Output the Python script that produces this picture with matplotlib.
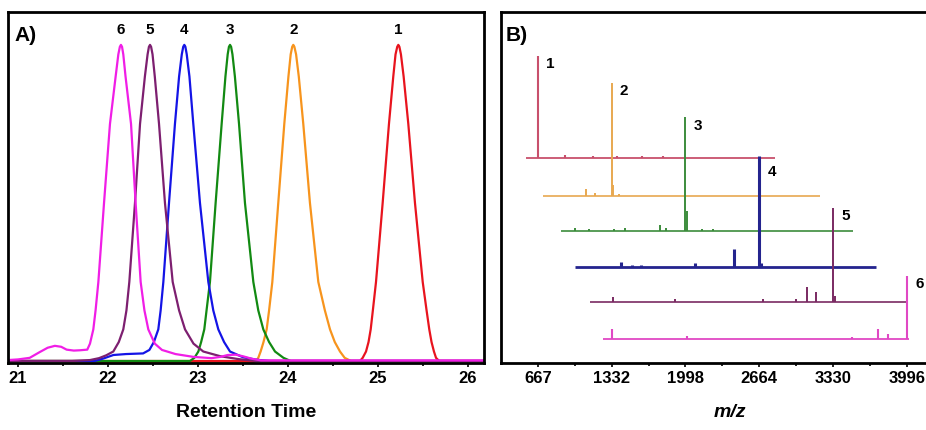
import numpy as np
import matplotlib
matplotlib.use('Agg')
import matplotlib.pyplot as plt

plt.rcParams['font.family'] = ['Liberation Sans', 'DejaVu Sans']
plt.rcParams['font.weight'] = 'bold'

# ---- Panel A: chromatogram traces (retention time in min, signal in % of max) ----
peak_ids = ['1', '2', '3', '4', '5', '6']
trace_colors = ['#e8141e', '#f7941d', '#128a12', '#1414e6', '#7d1f70', '#f01ee6']

rt_1 = [20.89, 24.80, 24.83, 24.867, 24.895, 24.919, 24.943, 24.978, 25.052, 25.122, 25.17,
        25.195, 25.214, 25.226, 25.238, 25.255, 25.285, 25.337, 25.411, 25.497, 25.54, 25.57,
        25.595, 25.622, 25.645, 25.68, 26.18]
sig_1 = [0, 0, 1, 3, 6, 10, 16, 25, 50, 75, 90, 97, 99.4, 100, 99.4, 97, 90, 75, 50, 25, 16,
         10, 6, 3, 1, 0, 0]

rt_2 = [20.89, 21.90, 21.93, 23.60, 23.644, 23.67, 23.696, 23.728, 23.763, 23.79, 23.826,
        23.892, 23.959, 24.005, 24.03, 24.047, 24.059, 24.071, 24.09, 24.12, 24.17, 24.244,
        24.337, 24.41, 24.467, 24.52, 24.578, 24.63, 24.70, 26.18]
sig_2 = [0, 0, -0.4, -0.4, 0, 1, 3, 6, 10, 16, 25, 50, 75, 90, 97, 99.4, 100, 99.4, 97, 90,
         75, 50, 25, 16, 10, 6, 3, 1, 0, 0]

rt_3 = [20.89, 22.91, 22.96, 23.004, 23.035, 23.07, 23.095, 23.133, 23.196, 23.263, 23.305,
        23.33, 23.344, 23.356, 23.368, 23.383, 23.41, 23.456, 23.522, 23.615, 23.67, 23.726,
        23.79, 23.856, 23.95, 24.03, 26.18]
sig_3 = [0, 0, 1, 3, 6, 10, 16, 25, 50, 75, 90, 97, 99.4, 100, 99.4, 97, 90, 75, 50, 25, 16,
         10, 6, 3, 1, 0, 0]

rt_4 = [20.89, 21.85, 21.95, 22.06, 22.20, 22.39, 22.46, 22.51, 22.559, 22.585, 22.615, 22.678,
        22.744, 22.79, 22.82, 22.836, 22.848, 22.86, 22.875, 22.905, 22.948, 23.022, 23.115,
        23.17, 23.226, 23.29, 23.356, 23.50, 23.65, 23.80, 26.18]
sig_4 = [0, 0, 0.8, 1.9, 2.2, 2.4, 3.5, 6, 10, 16, 25, 50, 75, 90, 97, 99.4, 100, 99.4, 97, 90,
         75, 50, 25, 16, 10, 6, 3, 1.2, 0.4, 0, 0]

rt_5 = [20.89, 21.60, 21.80, 21.90, 21.98, 22.059, 22.12, 22.17, 22.205, 22.237, 22.30, 22.356,
        22.41, 22.44, 22.455, 22.467, 22.479, 22.495, 22.52, 22.567, 22.633, 22.719, 22.79,
        22.856, 22.95, 23.059, 23.25, 23.45, 23.65, 26.18]
sig_5 = [0, 0, 0.3, 0.9, 1.8, 3, 6, 10, 16, 25, 50, 75, 90, 97, 99.4, 100, 99.4, 97, 90, 75,
         50, 25, 16, 10, 5.5, 3, 1.5, 0.6, 0, 0]

rt_6 = [20.89, 21.00, 21.13, 21.24, 21.33, 21.41, 21.48, 21.54, 21.62, 21.69, 21.77, 21.80,
        21.837, 21.862, 21.893, 21.956, 22.022, 22.085, 22.115, 22.132, 22.144, 22.156, 22.17,
        22.195, 22.256, 22.307, 22.363, 22.405, 22.448, 22.52, 22.60, 22.75, 22.95, 23.15,
        23.25, 23.33, 23.42, 23.50, 23.60, 23.70, 26.18]
sig_6 = [0.3, 0.5, 1.0, 2.8, 4.2, 4.8, 4.5, 3.6, 3.3, 3.4, 3.6, 5.5, 10, 16, 25, 50, 75, 90, 97,
         99.4, 100, 99.4, 97, 90, 75, 50, 25, 16, 10, 5.5, 3.5, 2.2, 1.3, 0.9, 1.3, 1.9, 2.0,
         1.5, 0.7, 0.2, 0.2]

rt_traces = [rt_1, rt_2, rt_3, rt_4, rt_5, rt_6]
sig_traces = [sig_1, sig_2, sig_3, sig_4, sig_5, sig_6]
rt_ticks = [21, 22, 23, 24, 25, 26]

# ---- Panel B: stacked mass spectra (m/z, intensity in arbitrary units) ----
spec_colors = ['#c8506c', '#e8a850', '#3c8c3c', '#24248e', '#7a2a62', '#e048c4']
spec_offset = [205, 167, 132, 96, 61, 24]
spec_start = [559, 712, 875, 1001, 1136, 1254]
spec_end = [2806, 3212, 3510, 3717, 4006, 4015]
spec_lw = [1.3, 1.2, 1.2, 2.0, 1.2, 1.3]

mz_1 = [667, 911, 1163, 1380, 1606, 1795]
int_1 = [102, 3, 2, 2, 2, 2]
mz_2 = [1332, 1345, 1100, 1181, 1400]
int_2 = [113, 11, 7, 3, 2]
mz_3 = [1998, 2008, 1768, 1822, 1000, 1130, 1350, 1450, 2150, 2250]
int_3 = [114, 20, 6, 3, 3, 2, 2, 3, 2, 2]
mz_4 = [2664, 2680, 2436, 1416, 1515, 1596, 2083]
int_4 = [111, 4, 18, 5, 2, 2, 4]
mz_5 = [3330, 3347, 3094, 3176, 1344, 1900, 2700, 3000]
int_5 = [94, 6, 15, 10, 5, 3, 3, 3]
mz_6 = [3996, 1335, 3735, 3825, 2012, 3500]
int_6 = [63, 10, 10, 5, 3, 2]

spec_mz = [mz_1, mz_2, mz_3, mz_4, mz_5, mz_6]
spec_int = [int_1, int_2, int_3, int_4, int_5, int_6]
label_dy = [-5, -5, -6, -11, -5, -5]
mz_ticks = [667, 1332, 1998, 2664, 3330, 3996]
mz_minor = [1000, 1665, 2331, 2997, 3663]


def style_axes(ax):
    for side in ax.spines.values():
        side.set_linewidth(2)
    ax.set_yticks([])
    ax.tick_params(axis='x', which='both', direction='out', width=1.2, pad=2, labelsize=12)
    ax.tick_params(axis='x', which='major', length=3)
    ax.tick_params(axis='x', which='minor', length=2.5)


fig = plt.figure(figsize=(9.26, 4.31), dpi=100)
axA = fig.add_axes([8 / 926, 67 / 431, 476 / 926, 351 / 431])
# right frame of panel B sits just past the image edge in the original
axB = fig.add_axes([501 / 926, 67 / 431, 430 / 926, 351 / 431])

# chromatogram
for i in [1, 0, 2, 3, 4, 5]:
    axA.plot(rt_traces[i], sig_traces[i], color=trace_colors[i], lw=1.6, solid_joinstyle='round')
    top = int(np.argmax(sig_traces[i]))
    axA.text(rt_traces[i][top], 105, peak_ids[i], ha='center', va='center',
             fontsize=11, fontweight='bold')
axA.set_xlim(20.889, 26.178)
axA.set_ylim(-0.63, 110.4)
axA.set_xticks(rt_ticks)
axA.set_xticks([t + 0.5 for t in rt_ticks[:-1]], minor=True)
style_axes(axA)
axA.set_xlabel('Retention Time', fontsize=14, fontweight='bold')
axA.xaxis.set_label_coords(0.5, -0.115)
axA.text(0.013, 0.962, 'A)', transform=axA.transAxes, ha='left', va='top',
         fontsize=15, fontweight='bold')

# stacked spectra
for i in range(6):
    base = spec_offset[i]
    axB.hlines(base, spec_start[i], spec_end[i], color=spec_colors[i], lw=spec_lw[i])
    axB.vlines(spec_mz[i], base, [base + h for h in spec_int[i]],
               color=spec_colors[i], lw=spec_lw[i] + 0.2)
    axB.annotate(peak_ids[i], xy=(spec_mz[i][0], base + spec_int[i][0]),
                 xytext=(9, label_dy[i]), textcoords='offset points',
                 ha='center', va='center', fontsize=11, fontweight='bold')
axB.set_xlim(333, 4214)
axB.set_ylim(0, 351)
axB.set_xticks(mz_ticks)
axB.set_xticks(mz_minor, minor=True)
style_axes(axB)
axB.set_xlabel('m/z', fontsize=14, fontweight='bold', fontstyle='italic')
axB.xaxis.set_label_coords((730 - 501) / 430, -0.115)
axB.text(0.01, 0.962, 'B)', transform=axB.transAxes, ha='left', va='top',
         fontsize=15, fontweight='bold')

fig.savefig('out.png', dpi=100)
